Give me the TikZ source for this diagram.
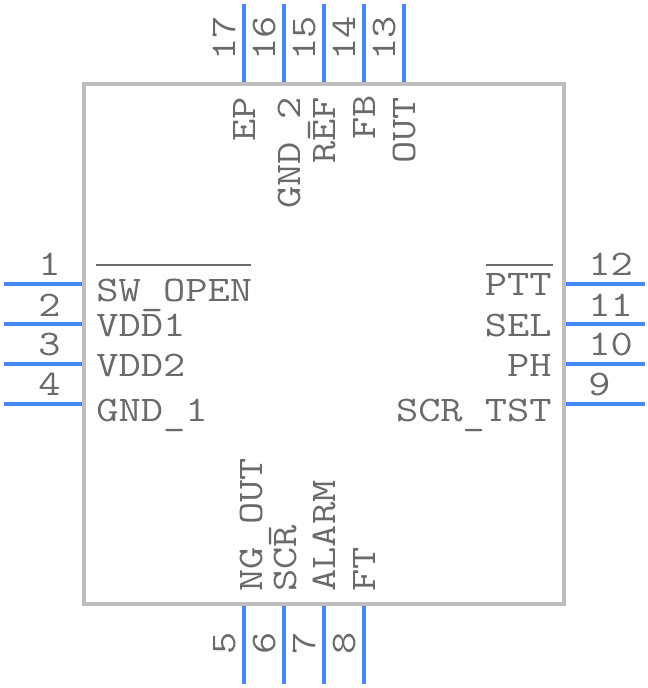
\documentclass[tikz,border=0pt]{standalone}
\usepackage{fontspec}
\setmonofont[FakeStretch=1.2]{Latin Modern Mono}
\usetikzlibrary{positioning}
\definecolor{pinblue}{HTML}{4488F0}
\definecolor{bodygrey}{HTML}{BEBEBE}
\definecolor{textgrey}{HTML}{6A6A6A}
\newcommand{\lowbar}{\raisebox{-2.2pt}{\_}}

\begin{document}
\begin{tikzpicture}[x=0.75pt,y=0.75pt,node distance=30pt,font=\fontsize{27}{27}\ttfamily,
                    text=textgrey,inner sep=0pt]

  \tikzstyle{pin} = [draw=pinblue,line width=3pt,shorten >=1.5pt]
  \tikzstyle{bar} = [draw=textgrey,line width=1.5pt]
  \tikzstyle{chip} = [draw=bodygrey,line width=3pt,outer sep=0pt,
                      minimum width=360pt,minimum height=390pt]
  \tikzstyle{lbl} = [anchor=base west]
  \tikzstyle{rbl} = [anchor=base east]
  \tikzstyle{vbl} = [anchor=base west,rotate=90]

  \useasboundingbox (0,0) rectangle (648,688);

  \node[chip] (body) at (324,344) {};

  % pin ends
  \coordinate (P1) at (4,404);
  \coordinate[below of=P1] (P2);
  \coordinate[below of=P2] (P3);
  \coordinate[below of=P3] (P4);
  \coordinate (P12) at (645,404);
  \coordinate[below of=P12] (P11);
  \coordinate[below of=P11] (P10);
  \coordinate[below of=P10] (P9);
  \coordinate (P17) at (244,684);
  \coordinate[right of=P17] (P16);
  \coordinate[right of=P16] (P15);
  \coordinate[right of=P15] (P14);
  \coordinate[right of=P14] (P13);
  \coordinate (P5) at (244,4);
  \coordinate[right of=P5] (P6);
  \coordinate[right of=P6] (P7);
  \coordinate[right of=P7] (P8);

  \path[pin] (P1) edge (P1 -| body.west)
        (P2) edge (P2 -| body.west)
        (P3) edge (P3 -| body.west)
        (P4) edge (P4 -| body.west)
        (P12) edge (P12 -| body.east)
        (P11) edge (P11 -| body.east)
        (P10) edge (P10 -| body.east)
        (P9) edge (P9 -| body.east)
        (P17) edge (P17 |- body.north)
        (P16) edge (P16 |- body.north)
        (P15) edge (P15 |- body.north)
        (P14) edge (P14 |- body.north)
        (P13) edge (P13 |- body.north)
        (P5) edge (P5 |- body.south)
        (P6) edge (P6 |- body.south)
        (P7) edge (P7 |- body.south)
        (P8) edge (P8 |- body.south);

  % pin numbers
  \node[lbl] (N1) at (38,412) {1};
  \node[lbl] (N2) at (38,371) {2};
  \node[lbl] (N3) at (38,332) {3};
  \node[lbl] (N4) at (38,292) {4};
  \node[lbl] (N12) at (588,412) {12};
  \node[lbl] (N11) at (588,371) {11};
  \node[lbl] (N10) at (588,332) {10};
  \node[lbl] (N9) at (588,292) {9};
  \node[vbl] (N17) at (235.5,627) {17};
  \node[vbl] (N16) at (275.5,627) {16};
  \node[vbl] (N15) at (315.5,627) {15};
  \node[vbl] (N14) at (355.5,627) {14};
  \node[vbl] (N13) at (395.5,627) {13};
  \node[vbl] (N5) at (235.5,33) {5};
  \node[vbl] (N6) at (275.5,33) {6};
  \node[vbl] (N7) at (315.5,33) {7};
  \node[vbl] (N8) at (355.5,33) {8};

  % signal names
  \node[lbl] (SWOPEN) at (96,386) {SW\lowbar OPEN};
  \node[lbl] (VDDA) at (96,351) {VDD1};
  \node[lbl] (VDDB) at (96,311) {VDD2};
  \node[lbl] (GNDA) at (96,266) {GND\lowbar 1};
  \node[rbl] (PTT) at (552,392) {PTT};
  \node[rbl] (SEL) at (552,351) {SEL};
  \node[rbl] (PH) at (552,311) {PH};
  \node[rbl] (SCRTST) at (552,266) {SCR\lowbar TST};
  \node[vbl] (EP) at (255.5,546) {EP};
  \node[vbl] (GNDB) at (300.5,479) {GND\lowbar 2};
  \node[vbl] (REF) at (335.5,524) {REF};
  \node[vbl] (FB) at (375.5,548) {FB};
  \node[vbl] (OUT) at (415.5,524) {OUT};
  \node[vbl] (NGOUT) at (262,96) {NG\lowbar OUT};
  \node[vbl] (SCR) at (296,96) {SCR};
  \node[vbl] (ALARM) at (335,96) {ALARM};
  \node[vbl] (FT) at (375,96) {FT};

  \draw[bar] (96,423) -- (251,423);
  \draw[bar] (486,423) -- (553,423);

\end{tikzpicture}
\end{document}
